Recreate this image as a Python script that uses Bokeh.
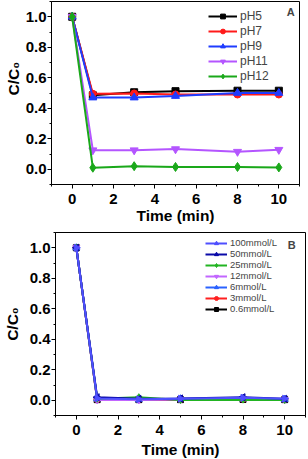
import math
from bokeh.plotting import figure
from bokeh.layouts import column
from bokeh.models import Legend, LegendItem, SingleIntervalTicker, Range1d, Label, NumeralTickFormatter, Title
from bokeh.embed import file_html
from bokeh.resources import INLINE

# ---------------- data ----------------
time_min = [0, 1, 3, 5, 8, 10]

ph_labels = ["pH5", "pH7", "pH9", "pH11", "pH12"]
ph5 = [1.0, 0.485, 0.505, 0.512, 0.515, 0.515]
ph7 = [1.0, 0.495, 0.497, 0.490, 0.490, 0.490]
ph9 = [1.0, 0.470, 0.470, 0.480, 0.500, 0.500]
ph11 = [1.0, 0.125, 0.125, 0.132, 0.115, 0.128]
ph12 = [1.0, 0.010, 0.020, 0.015, 0.015, 0.012]

conc_labels = ["100mmol/L", "50mmol/L", "25mmol/L", "12mmol/L", "6mmol/L", "3mmol/L", "0.6mmol/L"]
c100 = [1.0, 0.012, 0.006, 0.010, 0.016, 0.010]
c50 = [1.0, 0.020, 0.010, 0.012, 0.020, 0.010]
c25 = [1.0, 0.010, 0.020, 0.002, 0.004, 0.002]
c12 = [1.0, 0.002, 0.002, 0.005, 0.008, 0.004]
c6 = [1.0, 0.010, 0.006, 0.010, 0.010, 0.006]
c3 = [1.0, 0.005, 0.005, 0.005, 0.006, 0.005]
c06 = [1.0, 0.004, 0.004, 0.004, 0.005, 0.004]

FONT = "Liberation Sans"
YLABEL = "C/C\u2080"


def style(p, ylab_standoff, xlab_standoff, xtick_standoff):
    p.x_range = Range1d(-1, 11)
    p.y_range = Range1d(-0.1, 1.1)
    p.xgrid.visible = False
    p.ygrid.visible = False
    p.outline_line_color = "black"
    p.outline_line_width = 1
    p.background_fill_color = "white"
    p.xaxis.ticker = SingleIntervalTicker(interval=2, num_minor_ticks=2)
    p.yaxis.ticker = SingleIntervalTicker(interval=0.2, num_minor_ticks=2)
    p.yaxis.formatter = NumeralTickFormatter(format="0.0")
    for ax in (p.xaxis, p.yaxis):
        ax.axis_line_color = "black"
        ax.axis_line_width = 1
        ax.major_tick_in = 0
        ax.major_tick_out = 4
        ax.minor_tick_in = 0
        ax.minor_tick_out = 2
        ax.major_tick_line_color = "black"
        ax.minor_tick_line_color = "black"
        ax.major_label_text_font = FONT
        ax.major_label_text_font_style = "bold"
        ax.major_label_text_font_size = "15px"
        ax.major_label_text_color = "black"
        ax.axis_label_text_font = FONT
        ax.axis_label_text_font_style = "bold"
        ax.axis_label_text_font_size = "15.5px"
        ax.axis_label_text_color = "black"
    p.xaxis.axis_label = "Time (min)"
    p.xaxis.major_label_standoff = xtick_standoff
    p.yaxis.major_label_standoff = 1
    p.xaxis.axis_label_standoff = xlab_standoff
    p.yaxis.axis_label_standoff = ylab_standoff


# ---------------- panel A ----------------
p1 = figure(frame_width=248, frame_height=183, min_border_left=51, min_border_right=9,
            min_border_top=1, min_border_bottom=44,
            output_backend="svg", toolbar_location=None, margin=(0, 0, 0, -4))
style(p1, 1, 0, 5)
# y label of panel A sits a little above the frame centre in the reference
p1.add_layout(Title(text=YLABEL, align="left", offset=89, standoff=2, text_font=FONT,
                    text_font_style="bold", text_font_size="15.5px", text_color="black"),
              "left")

ph_series = [ph5, ph7, ph9, ph11, ph12]
ph_colors = ["#000000", "#ff1a1a", "#1f3cff", "#b455ff", "#1aa81a"]
ph_markers = ["square", "circle", "triangle", "inverted_triangle", "diamond"]
ph_sizes = [7, 7, 8, 8, 9]
items1 = []
for lab, ys, col, mk, sz in zip(ph_labels, ph_series, ph_colors, ph_markers, ph_sizes):
    r1 = p1.line(time_min, ys, line_color=col, line_width=2)
    r2 = p1.scatter(time_min, ys, marker=mk, size=sz, fill_color=col, line_color=col)
    items1.append(LegendItem(label=lab, renderers=[r1, r2]))

leg1 = Legend(items=items1, location=(157, 101), padding=0, margin=0, spacing=1,
              glyph_width=29, glyph_height=12, label_height=12, label_standoff=3,
              label_text_font=FONT, label_text_font_size="12px",
              background_fill_alpha=0, border_line_alpha=0)
p1.add_layout(leg1)
p1.add_layout(Label(x=10.57, y=1.028, text="A", text_font=FONT, text_font_style="bold",
                    text_font_size="11px", text_align="center", text_baseline="middle"))

# ---------------- panel B ----------------
p2 = figure(frame_width=250, frame_height=183, min_border_left=55, min_border_right=3,
            min_border_top=4, min_border_bottom=40,
            output_backend="svg", toolbar_location=None)
style(p2, 6, 3, 5)
p2.yaxis.axis_label = YLABEL

c_series = [c100, c50, c25, c12, c6, c3, c06]
c_colors = ["#4f4fff", "#0a0aa8", "#22b422", "#c266ff", "#2a62ff", "#ff2020", "#000000"]
c_markers = ["triangle", "triangle", "diamond", "inverted_triangle", "triangle", "circle", "square"]
c_angles = [-math.pi / 2, math.pi / 2, 0, 0, 0, 0, 0]
c_sizes = [7, 7, 7, 7, 7, 6, 6]
rend = list(zip(conc_labels, c_series, c_colors, c_markers, c_angles, c_sizes))
handles = {}
for lab, ys, col, mk, ang, sz in reversed(rend):
    r1 = p2.line(time_min, ys, line_color=col, line_width=2)
    r2 = p2.scatter(time_min, ys, marker=mk, angle=ang, size=sz, fill_color=col, line_color=col)
    handles[lab] = [r1, r2]
items2 = [LegendItem(label=lab, renderers=handles[lab]) for lab in conc_labels]

leg2 = Legend(items=items2, location=(150, 101), padding=0, margin=0, spacing=0,
              glyph_width=22, glyph_height=10, label_height=10, label_standoff=3,
              label_text_font=FONT, label_text_font_size="9.5px",
              background_fill_alpha=0, border_line_alpha=0)
p2.add_layout(leg2)
p2.add_layout(Label(x=10.34, y=1.018, text="B", text_font=FONT, text_font_style="bold",
                    text_font_size="11px", text_align="center", text_baseline="middle"))

layout = column(p1, p2, spacing=0)

with open("out.html", "w") as f:
    f.write(file_html(layout, INLINE))
